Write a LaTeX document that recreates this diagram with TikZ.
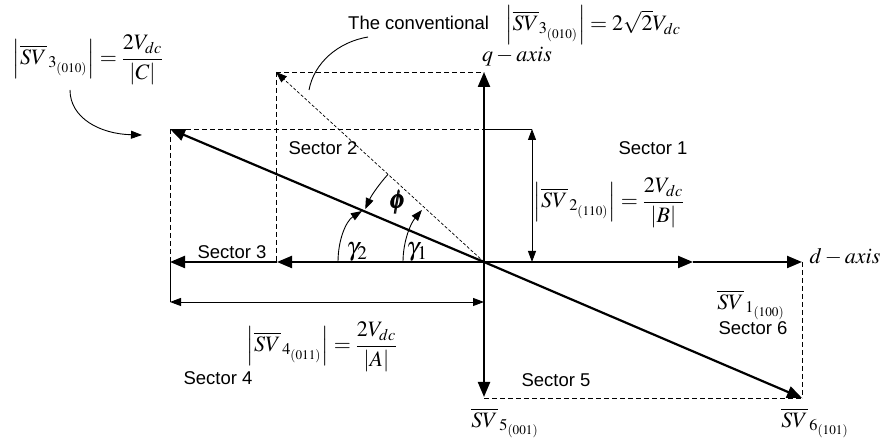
\documentclass[tikz,border=0pt]{standalone}
\usepackage{mathptmx}
\usepackage{amsmath}
\usepackage[no-math]{fontspec}
\setmainfont{Liberation Sans}
\usetikzlibrary{arrows.meta}
\newcommand{\mfs}{\fontsize{22}{26}\selectfont}
\newcommand{\gfs}{\fontsize{26}{30}\selectfont}
\newcommand{\tfs}{\fontsize{18.5}{22}\selectfont}
\tikzset{
  bigtip/.tip={Triangle[length=15pt,width=12pt]},
  smalltip/.tip={Triangle[length=11pt,width=8pt]},
  axisline/.style={line width=2.2pt},
  vecline/.style={line width=2.2pt,-bigtip},
  dimline/.style={line width=0.9pt},
  dashline/.style={line width=0.9pt,dash pattern=on 5pt off 3pt},
  thindash/.style={line width=0.7pt,dash pattern=on 3pt off 2pt},
  sectortext/.style={font=\tfs,inner sep=0pt},
  mathlabel/.style={font=\mfs,inner sep=0pt},
  greeklabel/.style={font=\gfs,inner sep=0pt},
}
\begin{document}
\begin{tikzpicture}[x=1pt,y=1pt]
\useasboundingbox (0,0) rectangle (884,443);
% key points
\coordinate (O) at (484,181);
\coordinate (Qtop) at (484,371);
\coordinate (Qbot) at (484,46);
\coordinate (Dright) at (802,181);
\coordinate (Dmid) at (693,181);
\coordinate (Left) at (170,181);
\coordinate (Lmid) at (277,181);
\coordinate (SVthree) at (170,314);
\coordinate (SVsix) at (802,45);
\coordinate (Conv) at (276,371);
\coordinate (ConvBase) at (276,181);
\coordinate (QthreeTop) at (484,314);
\coordinate (DimTwoTop) at (532,314);
\coordinate (DimTwoBot) at (532,181);
\coordinate (DimFourL) at (170,141);
\coordinate (DimFourR) at (484,141);
\coordinate (QsixBot) at (484,45);
% dashed construction lines
\draw[dashline] (SVthree) -- (QthreeTop);
\draw[dashline] (SVthree) -- (Left);
\draw[dashline] (Conv) -- (Qtop);
\draw[dashline] (Conv) -- (ConvBase);
\draw[dashline] (QsixBot) -- (SVsix);
\draw[dashline] (Dright) -- (SVsix);
\draw[thindash,-{Triangle[length=11pt,width=8pt]}] (O) -- (Conv);
% axes
\draw[axisline,bigtip-bigtip] (Qbot) -- (Qtop);
\draw[vecline] (O) -- (Dmid);
\draw[vecline] (Dmid) -- (Dright);
\draw[vecline] (O) -- (Lmid);
\draw[vecline] (Lmid) -- (Left);
% SV3 / SV6 line
\draw[vecline] (O) -- (SVthree);
\draw[vecline] (O) -- (SVsix);
% dimension lines
\draw[dimline] (QthreeTop) -- (DimTwoTop);
\draw[dimline,smalltip-smalltip] (DimTwoBot) -- (DimTwoTop);
\draw[dimline] (Left) -- (DimFourL);
\draw[dimline,smalltip-smalltip] (DimFourL) -- (DimFourR);
% angle arcs
\draw[dimline,-smalltip] ([shift={(180:81)}]O) arc[start angle=180,end angle=140,radius=81];
\draw[dimline,-smalltip] ([shift={(137.6:130)}]O) arc[start angle=137.6,end angle=156,radius=130];
\coordinate (GtwoS) at (338,181);
\coordinate (GtwoE) at (362,232);
\draw[dimline,-smalltip] (GtwoS) .. controls (338,203) and (346,222) .. (GtwoE);
% annotation curves
\coordinate (CurA) at (70,353);
\coordinate (CurAE) at (142,308);
\draw[dimline,-smalltip] (CurA) .. controls (70,325) and (100,309) .. (CurAE);
\coordinate (CurB) at (368,406);
\coordinate (CurBE) at (309,353);
\draw[dimline] (CurB) .. controls (338,401) and (314,380) .. (CurBE);
% labels
\node[greeklabel] (phi) at (398,241) {$\pmb{\phi}$};
\node[greeklabel] (g2) at (357,191) {$\gamma_2$};
\node[greeklabel] (g1) at (417,191) {$\gamma_1$};
\node[mathlabel] (qlab) at (517,386) {$q-axis$};
\node[mathlabel] (dlab) at (845,186) {$d-axis$};
\node[sectortext] (s1) at (653,295) {Sector 1};
\node[sectortext] (s2) at (323,295) {Sector 2};
\node[sectortext] (s3) at (232,191) {Sector 3};
\node[sectortext] (s4) at (218,65) {Sector 4};
\node[sectortext] (s5) at (556,63) {Sector 5};
\node[sectortext] (s6) at (753,115) {Sector 6};
\node[sectortext,anchor=west] (conv) at (348,420) {The conventional};
\node[mathlabel,anchor=west] (convf) at (505,418) {$\left|\overline{SV}_{3_{(010)}}\right| = 2\sqrt{2}V_{dc}$};
\node[mathlabel] (lab3) at (88,383) {$\left|\overline{SV}_{\,3_{(010)}}\right| = \dfrac{2V_{dc}}{|C|}$};
\node[mathlabel] (lab2) at (609,240) {$\left|\overline{SV}_{\,2_{(110)}}\right| = \dfrac{2V_{dc}}{|B|}$};
\node[mathlabel] (lab4) at (322,96) {$\left|\overline{SV}_{\,4_{(011)}}\right| = \dfrac{2V_{dc}}{|A|}$};
\node[mathlabel] (lab1) at (751,138) {$\overline{SV}_{\,1_{(100)}}$};
\node[mathlabel] (lab5) at (505,20) {$\overline{SV}_{\,5_{(001)}}$};
\node[mathlabel] (lab6) at (815,20) {$\overline{SV}_{\,6_{(101)}}$};
\end{tikzpicture}
\end{document}
